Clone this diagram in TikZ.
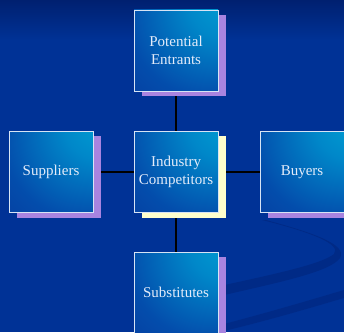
\documentclass[tikz,border=0pt]{standalone}
\usepackage{fontspec}
\setmainfont{Liberation Serif}
\usetikzlibrary{shadows}
\definecolor{bgblue}{RGB}{0,50,150}
\definecolor{bgtop}{RGB}{0,32,112}
\definecolor{swoosh}{RGB}{0,40,130}
\definecolor{shadepurple}{RGB}{168,132,224}
\definecolor{shadeyellow}{RGB}{255,255,204}
\definecolor{boxcyan}{RGB}{0,168,214}
\definecolor{boxmid}{RGB}{0,95,185}
\definecolor{boxdark}{RGB}{8,50,152}
\definecolor{txt}{RGB}{228,236,250}
\definecolor{boxedge}{RGB}{215,228,245}
\pgfdeclareradialshading{boxshade}{\pgfpoint{38bp}{38bp}}{color(0bp)=(boxcyan); color(22bp)=(boxcyan!55!boxmid); color(48bp)=(boxmid!60!boxdark); color(75bp)=(boxdark); color(100bp)=(boxdark)}
\pgfdeclarelayer{bg}
\pgfdeclarelayer{lines}
\pgfsetlayers{bg,lines,main}
\tikzset{
  forcebox/.style={draw=boxedge, line width=0.8pt, shading=boxshade,
    minimum width=84pt, minimum height=81pt, inner sep=0pt,
    text=txt, font=\fontsize{15}{18}\selectfont, align=center},
  purpleshadow/.style={drop shadow={shadow xshift=8pt, shadow yshift=-5pt, fill=shadepurple, opacity=1}},
  yellowshadow/.style={drop shadow={shadow xshift=8pt, shadow yshift=-5pt, fill=shadeyellow, opacity=1}},
  link/.style={draw=black, line width=1.6pt}
}
\begin{document}
\begin{tikzpicture}[x=1pt,y=1pt]
\useasboundingbox (0,0) rectangle (344,332);
\clip (0,0) rectangle (344,332);
\begin{pgfonlayer}{bg}
  \fill[bgblue] (0,0) rectangle (344,332);
  \shade[top color=bgtop, bottom color=bgblue] (0,292) rectangle (344,332);
  \fill[swoosh, opacity=0.8] (266,112) .. controls (310,100) and (348,88) .. (340,74)
     .. controls (330,60) and (280,50) .. (220,36) -- (220,46)
     .. controls (275,58) and (322,68) .. (334,78)
     .. controls (342,88) and (310,100) .. (262,112) -- cycle;
  \fill[swoosh, opacity=0.7] (220,0) .. controls (270,12) and (310,24) .. (344,34) -- (344,42)
     .. controls (310,32) and (270,20) .. (220,7) -- cycle;
\end{pgfonlayer}
\node[forcebox, purpleshadow] (ent) at (176,281.5) {Potential\\Entrants};
\node[forcebox, purpleshadow] (sup) at (51,160) {Suppliers};
\node[forcebox, yellowshadow] (ind) at (176,160) {Industry\\Competitors};
\node[forcebox, purpleshadow] (buy) at (302,160) {Buyers};
\node[forcebox, purpleshadow] (sub) at (176,39.5) {Substitutes};
\begin{pgfonlayer}{lines}
  \draw[link] (ent) -- (ind);
  \draw[link] (ind) -- (sub);
  \draw[link] (sup) -- (ind);
  \draw[link] (ind) -- (buy);
\end{pgfonlayer}
\end{tikzpicture}
\end{document}
